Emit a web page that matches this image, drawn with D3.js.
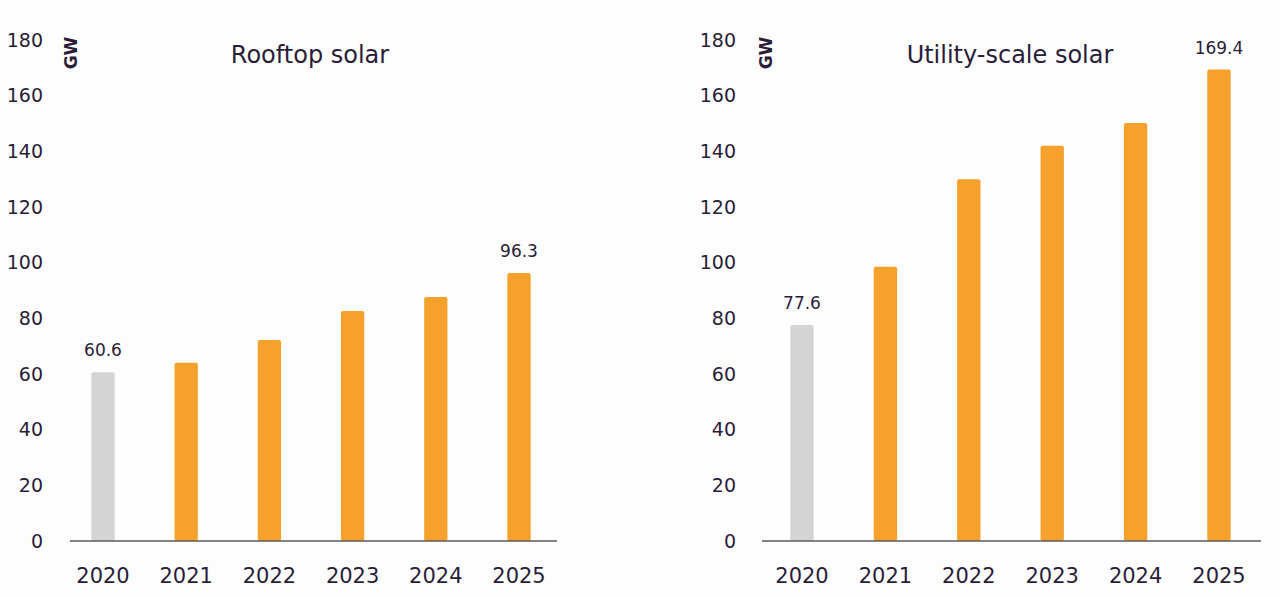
<!DOCTYPE html>
<html>
<head>
<meta charset="utf-8">
<script src="https://cdn.jsdelivr.net/npm/d3@7.9.0/dist/d3.min.js"></script>
<style>
  body { margin: 0; background: #fdfdfd; }
  svg { display: block; font-family: "DejaVu Sans", sans-serif; }
</style>
</head>
<body>
<svg id="chart" width="1280" height="596"></svg>
<script>
const years = ["2020", "2021", "2022", "2023", "2024", "2025"];
const rooftop = [60.6, 64.0, 72.2, 82.6, 87.7, 96.3];
const utility = [77.6, 98.5, 130.0, 142.0, 150.2, 169.4];
const yTicks = [0, 20, 40, 60, 80, 100, 120, 140, 160, 180];
const rooftopLabels = ["60.6", null, null, null, null, "96.3"];
const utilityLabels = ["77.6", null, null, null, null, "169.4"];

const svg = d3.select("#chart");
const textColor = "#2b1d3a";

const y = d3.scaleLinear().domain([0, 180]).range([541, 40]);

function drawPanel(opts) {
    const g = svg.append("g");

    const x = d3.scaleBand()
        .domain(years)
        .range(opts.xRange)
        .paddingInner(0.72)
        .paddingOuter(0.36);

    // y axis labels only, no line
    const yAxis = g.append("g")
        .attr("transform", `translate(${opts.tickX},0)`)
        .call(d3.axisLeft(y).tickValues(yTicks).tickSize(0).tickPadding(0));
    yAxis.select(".domain").remove();
    yAxis.selectAll("text")
        .attr("fill", textColor)
        .style("font-family", "'DejaVu Sans', sans-serif")
        .style("font-size", "19px");

    // bars
    g.selectAll(".bar")
        .data(opts.values)
        .enter().append("rect")
        .attr("class", "bar")
        .attr("x", (d, i) => x(years[i]))
        .attr("y", d => y(d))
        .attr("width", x.bandwidth())
        .attr("height", d => y(0) - y(d))
        .attr("rx", 2)
        .attr("fill", (d, i) => i === 0 ? "#d4d4d4" : "#f6a12b");

    // baseline
    g.append("line")
        .attr("x1", opts.baseline[0])
        .attr("x2", opts.baseline[1])
        .attr("y1", y(0))
        .attr("y2", y(0))
        .attr("stroke", "#5a5a5a")
        .attr("stroke-width", 1.5);

    // x axis
    const xAxis = g.append("g")
        .attr("transform", `translate(0,${y(0)})`)
        .call(d3.axisBottom(x).tickSize(0).tickPadding(27));
    xAxis.select(".domain").remove();
    xAxis.selectAll("text")
        .attr("fill", textColor)
        .style("font-family", "'DejaVu Sans', sans-serif")
        .style("font-size", "21px");

    // value labels
    const labelled = opts.values
        .map((v, i) => ({ year: years[i], value: v, text: opts.labels[i] }))
        .filter(d => d.text !== null);

    g.selectAll(".label")
        .data(labelled)
        .enter().append("text")
        .attr("class", "label")
        .attr("text-anchor", "middle")
        .attr("x", d => x(d.year) + x.bandwidth() / 2)
        .attr("y", d => y(d.value) - 16)
        .attr("fill", textColor)
        .style("font-size", "17px")
        .text(d => d.text);

    // GW unit
    g.append("text")
        .attr("transform", `translate(${opts.gwX},53) rotate(-90)`)
        .attr("text-anchor", "middle")
        .attr("fill", textColor)
        .style("font-size", "17px")
        .style("font-weight", "bold")
        .text("GW");

    // title
    g.append("text")
        .attr("x", opts.titleX)
        .attr("y", 63)
        .attr("text-anchor", "middle")
        .attr("fill", textColor)
        .style("font-size", "24px")
        .text(opts.title);
}

drawPanel({
    title: "Rooftop solar",
    values: rooftop,
    labels: rooftopLabels,
    xRange: [61.4, 560.6],
    baseline: [70, 557],
    tickX: 43,
    gwX: 77,
    titleX: 310
});

drawPanel({
    title: "Utility-scale solar",
    values: utility,
    labels: utilityLabels,
    xRange: [760.3, 1260.7],
    baseline: [762, 1261],
    tickX: 736,
    gwX: 772,
    titleX: 1010
});
</script>
</body>
</html>
